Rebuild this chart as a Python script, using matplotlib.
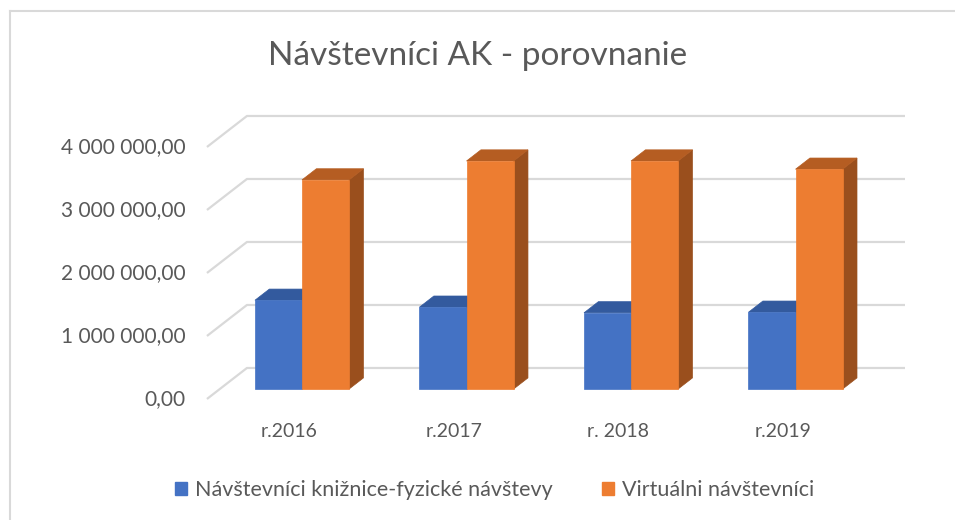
import matplotlib
matplotlib.use("Agg")
import matplotlib.pyplot as plt
from matplotlib.patches import Polygon

plt.rcParams['font.family'] = ['Lato', 'DejaVu Sans']

# data
categories = ['r.2016', 'r.2017', 'r. 2018', 'r.2019']
fyzicke = [1410000, 1300000, 1210000, 1220000]
virtualne = [3320000, 3620000, 3620000, 3490000]
series_names = ['Návštevníci knižnice-fyzické návštevy', 'Virtuálni návštevníci']
yticks = [0, 1000000, 2000000, 3000000, 4000000]
ytick_labels = ['0,00', '1 000 000,00', '2 000 000,00', '3 000 000,00', '4 000 000,00']

# colours (front, top, side)
blue = ('#4472C4', '#335A9E', '#2F5597')
orange = ('#ED7D31', '#B55D22', '#9A4F1D')
grid_c = '#D9D9D9'
text_c = '#595959'

# oblique depth offset of the whole floor, in data units
DX = 0.243
DY = 492000
Z0, Z1 = 0.32, 0.68     # bar depth span (fraction of floor depth)

fig = plt.figure(figsize=(9.55, 5.2), dpi=100)
ax = fig.add_axes([0, 0, 1, 1])
ax.set_xlim(-1.258, 4.547)
ax.set_ylim(-1921000, 6333000)
ax.axis('off')

# chart frame
fig.add_artist(plt.Line2D([0.0105, 0.0105], [0, 0.979], color=grid_c, lw=1.5))
fig.add_artist(plt.Line2D([0.0105, 1], [0.979, 0.979], color=grid_c, lw=1.5))

# gridlines: side wall diagonal + back wall horizontal
for v, lab in zip(yticks, ytick_labels):
    ax.plot([0, DX, len(categories) + DX], [v, v + DY, v + DY],
            color=grid_c, lw=1.6, zorder=1, solid_capstyle='butt')
    ax.text(-0.13, v, lab, ha='right', va='center', fontsize=15, color=text_c)


def bar3d(x0, x1, h, cols):
    ox0, oy0 = DX * Z0, DY * Z0
    ddx, ddy = DX * (Z1 - Z0), DY * (Z1 - Z0)
    fx0, fx1 = x0 + ox0, x1 + ox0
    front = [(fx0, oy0), (fx1, oy0), (fx1, oy0 + h), (fx0, oy0 + h)]
    top = [(fx0, oy0 + h), (fx1, oy0 + h), (fx1 + ddx, oy0 + h + ddy), (fx0 + ddx, oy0 + h + ddy)]
    side = [(fx1, oy0), (fx1 + ddx, oy0 + ddy), (fx1 + ddx, oy0 + h + ddy), (fx1, oy0 + h)]
    for pts, c in ((side, cols[2]), (top, cols[1]), (front, cols[0])):
        ax.add_patch(Polygon(pts, closed=True, facecolor=c, edgecolor=c, lw=0.5, zorder=3))


w = 0.286
for i in range(len(categories)):
    bar3d(i + 0.5 - w, i + 0.5, fyzicke[i], blue)
    bar3d(i + 0.5, i + 0.5 + w, virtualne[i], orange)
    ax.text(i + 0.5, -520000, categories[i], ha='center', va='center', fontsize=14, color=text_c)

# title
fig.text(0.5, 0.892, 'Návštevníci AK - porovnanie', ha='center', va='center',
         fontsize=24, color=text_c)

# legend
handles = [plt.Rectangle((0, 0), 1, 1, color=blue[0]), plt.Rectangle((0, 0), 1, 1, color=orange[0])]
fig.legend(handles, series_names, loc='center', bbox_to_anchor=(0.518, 0.058), ncol=2,
           frameon=False, fontsize=15.5, labelcolor=text_c, handlelength=0.56, handleheight=0.56,
           handletextpad=0.35, columnspacing=2.3)

fig.savefig('out.png', dpi=100)
